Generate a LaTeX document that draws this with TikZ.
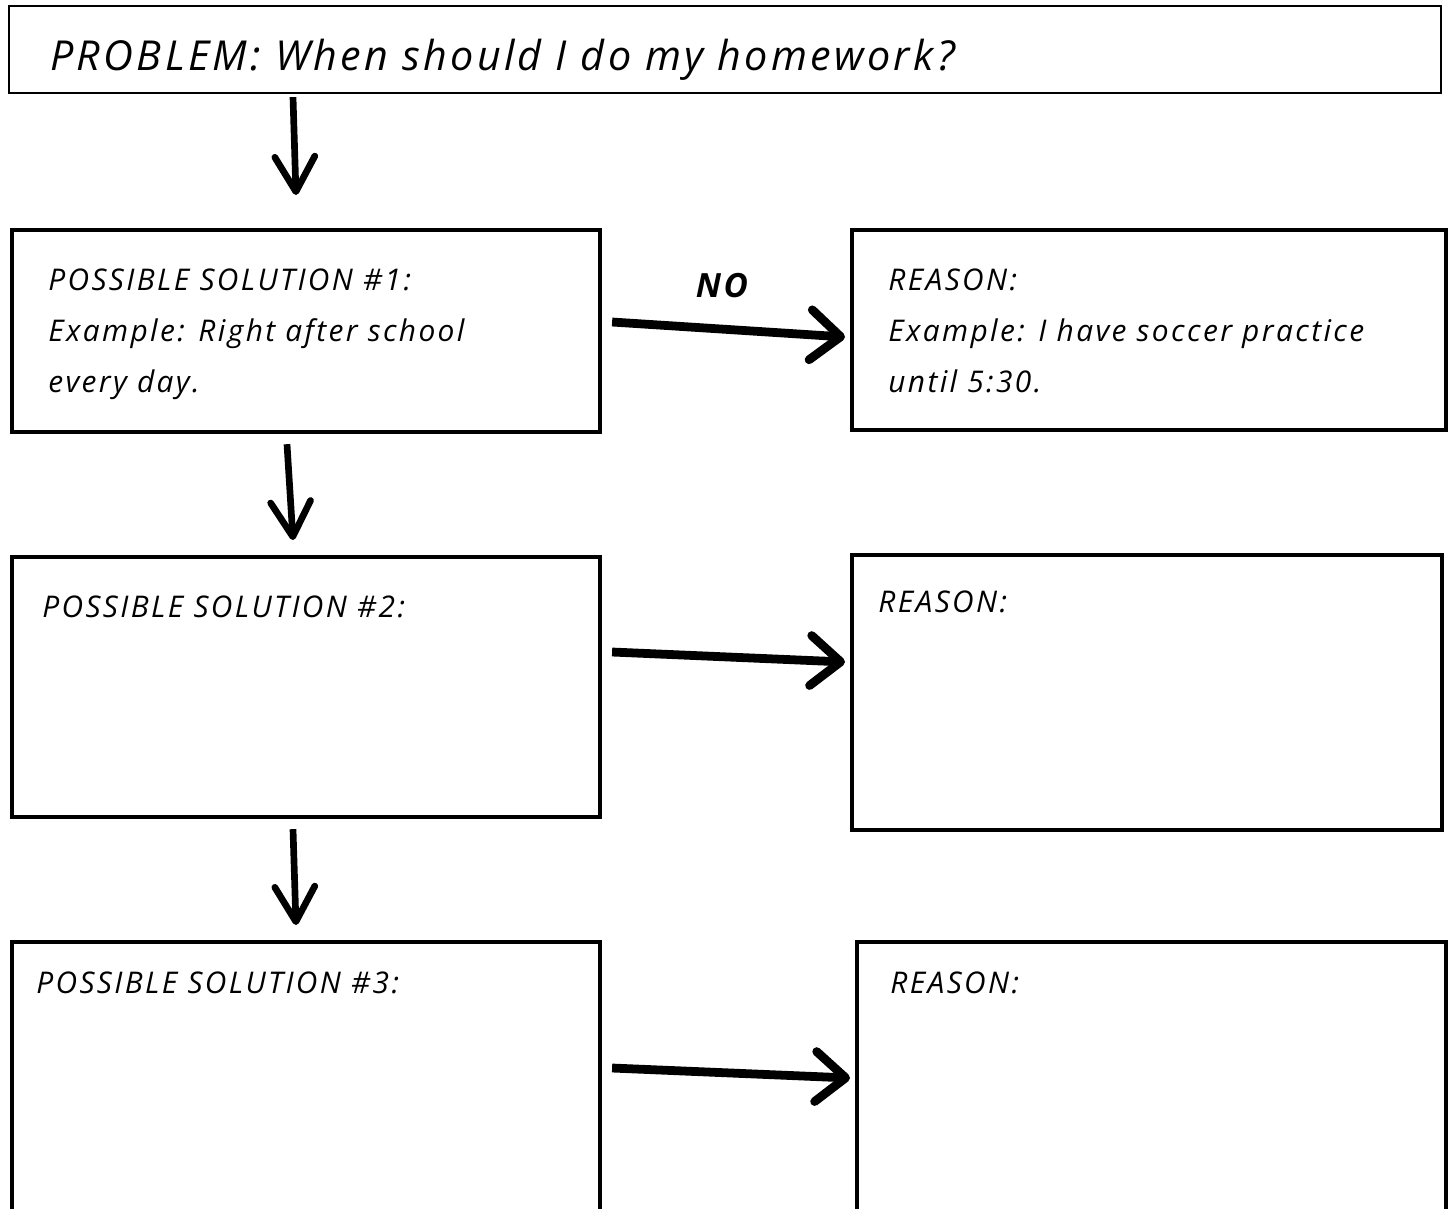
\documentclass[tikz,border=0pt]{standalone}
\usepackage{fontspec}
\setmainfont{Open Sans}[LetterSpace=8]
\usepackage{tikz}
\usetikzlibrary{arrows.meta}
\usetikzlibrary{positioning, calc}

\begin{document}
\begin{tikzpicture}[x=0.02cm, y=-0.02cm,
    box/.style={draw, line width=2.4pt, inner sep=0pt, anchor=north west},
    txt/.style={anchor=base west, inner sep=0pt, align=left, font=\itshape\fontsize{17}{29}\selectfont},
    down/.style={line width=3.8pt, -{Straight Barb[length=7mm, width=8mm, round]}},
    across/.style={line width=5pt, -{Straight Barb[length=6mm, width=10mm, round]}}]
                \useasboundingbox (0,0) rectangle (1450,1208);
                \clip (0,0) rectangle (1450,1208);
                % Problem
                \node[box, line width=1.2pt, minimum width=28.64cm, minimum height=1.74cm] (prob) at (8,5) {};
                \node[txt, font=\itshape\fontsize{23.5}{27}\selectfont] (probt) at (50,70) {PROBLEM: When should I do my homework?};
                % Solutions and reasons
                \node[box, minimum width=11.76cm, minimum height=4.04cm] (sol1) at (10,228) {};
                \node[box, minimum width=11.88cm, minimum height=4cm] (rsn1) at (850,228) {};
                \node[box, minimum width=11.76cm, minimum height=5.2cm] (sol2) at (10,555) {};
                \node[box, minimum width=11.8cm, minimum height=5.5cm] (rsn2) at (850,553) {};
                \node[box, minimum width=11.76cm, minimum height=6cm] (sol3) at (10,940) {};
                \node[box, minimum width=11.78cm, minimum height=6cm] (rsn3) at (855,940) {};
                % Texts (base = last line)
                \node[txt] (sol1t) at (48,392) {POSSIBLE SOLUTION \#1:\\Example: Right after school\\every day.};
                \node[txt] (rsn1t) at (888,392) {REASON:\\Example: I have soccer practice\\until 5:30.};
                \node[txt] (sol2t) at (42,617) {POSSIBLE SOLUTION \#2:};
                \node[txt] (rsn2t) at (878,612) {REASON:};
                \node[txt] (sol3t) at (36,993) {POSSIBLE SOLUTION \#3:};
                \node[txt] (rsn3t) at (890,993) {REASON:};
                \node[font=\itshape\bfseries\fontsize{19}{23}\selectfont] (no) at (722,286) {NO};
                % Arrows
                \draw[down] ($(prob.south west)+(285,3)$) -- ($(sol1.north west)+(286,-33)$);
                \draw[down] ($(sol1.south west)+(277,10)$) -- ($(sol2.north west)+(283,-15)$);
                \draw[down] ($(sol2.south west)+(283,10)$) -- ($(sol3.north west)+(286,-15)$);
                \draw[across] ($(sol1.north east)+(10,94)$) -- ($(rsn1.north west)+(-5,109)$);
                \draw[across] ($(sol2.north east)+(10,97)$) -- ($(rsn2.north west)+(-5,109)$);
                \draw[across] ($(sol3.north east)+(10,128)$) -- ($(rsn3.north west)+(-5,138)$);
            \end{tikzpicture}
\end{document}
